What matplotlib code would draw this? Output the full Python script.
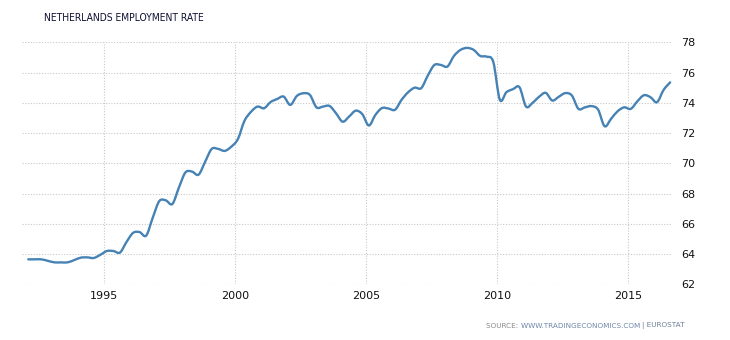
import numpy as np
import matplotlib.pyplot as plt
from matplotlib.path import Path
from matplotlib.patches import PathPatch

# quarterly employment rate, Netherlands (%)
start_year = 1992.12
rate = [
    63.65, 63.65, 63.65, 63.55, 63.45, 63.45, 63.45, 63.60,   # 1992-1993
    63.76, 63.78, 63.74, 63.95, 64.20, 64.20, 64.10, 64.80,   # 1994-1995
    65.40, 65.45, 65.22, 66.40, 67.50, 67.55, 67.31, 68.40,   # 1996-1997
    69.40, 69.45, 69.25, 70.10, 70.95, 70.95, 70.82, 71.10,   # 1998-1999
    71.60, 72.80, 73.40, 73.75, 73.64, 74.05, 74.25, 74.41,   # 2000-2001
    73.86, 74.45, 74.63, 74.52, 73.70, 73.75, 73.79, 73.30,   # 2002-2003
    72.75, 73.10, 73.48, 73.25, 72.50, 73.20, 73.65, 73.62,   # 2004-2005
    73.54, 74.20, 74.70, 75.00, 74.97, 75.80, 76.50, 76.50,   # 2006-2007
    76.40, 77.10, 77.50, 77.63, 77.50, 77.10, 77.05, 76.70,   # 2008-2009
    74.20, 74.70, 74.90, 75.03, 73.75, 74.00, 74.40, 74.66,   # 2010-2011
    74.15, 74.40, 74.64, 74.48, 73.60, 73.70, 73.78, 73.55,   # 2012-2013
    72.45, 72.95, 73.45, 73.70, 73.60, 74.10, 74.50, 74.37,   # 2014-2015
    74.04, 74.85, 75.35,                                       # 2016
]
years = start_year + 0.25 * np.arange(len(rate))

x_ticks = [1995, 2000, 2005, 2010, 2015]
y_ticks = [62, 64, 66, 68, 70, 72, 74, 76, 78]


def spline_path(x, y):
    # cubic bezier through every point (catmull-rom style handles)
    pts = np.column_stack([x, y])
    verts = [pts[0]]
    codes = [Path.MOVETO]
    n = len(pts)
    for i in range(n - 1):
        p0 = pts[max(i - 1, 0)]
        p1 = pts[i]
        p2 = pts[i + 1]
        p3 = pts[min(i + 2, n - 1)]
        c1 = p1 + (p2 - p0) / 6.0
        c2 = p2 - (p3 - p1) / 6.0
        verts += [c1, c2, p2]
        codes += [Path.CURVE4] * 3
    return Path(verts, codes)


fig = plt.figure(figsize=(7.3, 3.4), dpi=100)
ax = fig.add_axes([22 / 730, 55.7 / 340, 649.7 / 730, 242 / 340])

ax.add_patch(PathPatch(spline_path(years, rate), facecolor='none',
                       edgecolor='#4682b4', lw=1.7, capstyle='round',
                       joinstyle='round'))

ax.set_xlim(1991.88, 2016.68)
ax.set_ylim(62, 78)
ax.set_xticks(x_ticks)
ax.set_yticks(y_ticks)
ax.yaxis.tick_right()
ax.tick_params(axis='both', length=0, labelsize=8, labelcolor='#111111')
ax.tick_params(axis='y', pad=7)
ax.tick_params(axis='x', pad=5)
for s in ax.spines.values():
    s.set_visible(False)
ax.grid(True, color='#c8c8c8', linestyle=(0, (1, 1.5)), linewidth=0.8)
ax.set_axisbelow(True)

fig.text(44 / 730, 1 - 17.7 / 340, 'NETHERLANDS EMPLOYMENT RATE',
         fontsize=7.4, color='#111133', va='center', ha='left',
         fontstretch='condensed')

# source line, built right to left
src_y = 1 - 325.7 / 340
t3 = fig.text(685 / 730, src_y, '| EUROSTAT', fontsize=5.2,
              color='#6f7f96', va='center', ha='right')
t2 = ax.annotate('WWW.TRADINGECONOMICS.COM ', xy=(0, 0.5), xycoords=t3,
                 fontsize=5.2, color='#6f86a8', va='center', ha='right',
                 annotation_clip=False)
ax.annotate('SOURCE: ', xy=(0, 0.5), xycoords=t2, fontsize=5.2,
            color='#8a8a8a', va='center', ha='right', annotation_clip=False)

fig.savefig('out.png', dpi=100)
